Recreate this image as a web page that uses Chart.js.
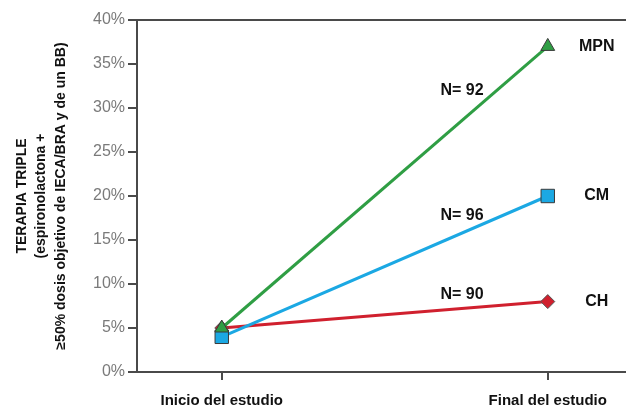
<!DOCTYPE html>
<html>
<head>
<meta charset="utf-8">
<script src="https://cdn.jsdelivr.net/npm/chart.js@4.4.0/dist/chart.umd.min.js"></script>
<style>
    html, body { margin: 0; padding: 0; background: #ffffff; }
    #wrap { width: 626px; height: 412px; }
</style>
</head>
<body>
<div id="wrap"><canvas id="tripleChart"></canvas></div>
<script>
// Data
const stages = ['Inicio del estudio', 'Final del estudio'];
const groupNames = ['MPN', 'CM', 'CH'];
const mpnValues = [5, 37];
const cmValues = [4, 20];
const chValues = [5, 8];
const nLabels = ['N= 92', 'N= 96', 'N= 90'];
const nLabelY = [32, 17.8, 8.8];   // vertical place of the N= notes, in % units
const yTicks = [0, 5, 10, 15, 20, 25, 30, 35, 40];
const yTitle = ['TERAPIA TRIPLE', '(espironolactona +', '\u226550% dosis objetivo de IECA/BRA y de un BB)'];

const colors = {
    mpn: '#2f9e44',
    cm: '#1ba8e3',
    ch: '#d0202e',
    axis: '#4a4a4a',
    tick: '#7a7a7a',
    text: '#111111'
};
const sans = '"Liberation Sans", Arial, sans-serif';

function toPoints(values) {
    return values.map((v, i) => ({ x: i, y: v }));
}

// top frame line + group names + N= notes
const notesPlugin = {
    id: 'notes',
    afterDatasetsDraw(chart) {
        const ctx = chart.ctx;
        const area = chart.chartArea;
        const xs = chart.scales.x;
        const ys = chart.scales.y;
        ctx.save();
        ctx.strokeStyle = colors.axis;
        ctx.lineWidth = 2;
        ctx.beginPath();
        ctx.moveTo(area.left, area.top);
        ctx.lineTo(area.right, area.top);
        ctx.stroke();

        ctx.fillStyle = colors.text;
        ctx.font = 'bold 16px ' + sans;
        ctx.textAlign = 'center';
        ctx.textBaseline = 'middle';
        chart.data.datasets.forEach((ds, i) => {
            const last = ds.data[ds.data.length - 1];
            ctx.fillText(groupNames[i], xs.getPixelForValue(last.x) + 49, ys.getPixelForValue(last.y));
            ctx.fillText(nLabels[i], xs.getPixelForValue(0.737), ys.getPixelForValue(nLabelY[i]));
        });
        ctx.restore();
    }
};

const chart = new Chart(document.getElementById('tripleChart'), {
    type: 'line',
    data: {
        datasets: [
            {
                label: groupNames[0],
                data: toPoints(mpnValues),
                borderColor: colors.mpn,
                backgroundColor: colors.mpn,
                pointStyle: 'triangle',
                pointRadius: 8,
                pointBorderColor: '#3a3a3a',
                pointBorderWidth: 1,
                borderWidth: 3
            },
            {
                label: groupNames[1],
                data: toPoints(cmValues),
                borderColor: colors.cm,
                backgroundColor: colors.cm,
                pointStyle: 'rect',
                pointRadius: 9.5,
                pointBorderColor: '#3a3a3a',
                pointBorderWidth: 1,
                borderWidth: 3
            },
            {
                label: groupNames[2],
                data: toPoints(chValues),
                borderColor: colors.ch,
                backgroundColor: colors.ch,
                pointStyle: 'rectRot',
                pointRadius: 7,
                pointBorderColor: '#555555',
                pointBorderWidth: 1,
                borderWidth: 3
            }
        ]
    },
    options: {
        responsive: true,
        maintainAspectRatio: false,
        animation: false,
        layout: {
            autoPadding: false,
            padding: { top: 20, right: 0, left: 12, bottom: 0 }
        },
        plugins: {
            legend: { display: false },
            tooltip: { enabled: false }
        },
        scales: {
            x: {
                type: 'linear',
                min: -0.26,
                max: 1.24,
                afterBuildTicks: (scale) => { scale.ticks = stages.map((s, i) => ({ value: i })); },
                grid: { drawOnChartArea: false, drawTicks: true, tickLength: 8, color: colors.axis, lineWidth: 2 },
                border: { color: colors.axis, width: 2 },
                ticks: {
                    color: colors.text,
                    padding: 12,
                    maxRotation: 0,
                    autoSkip: false,
                    font: { family: sans, size: 15, weight: 'bold' },
                    callback: (v) => stages[v]
                },
                afterFit: (scale) => {
                    scale.height = 40;
                    scale.paddingLeft = 0;
                    scale.paddingRight = 0;
                }
            },
            y: {
                min: 0,
                max: 40,
                afterBuildTicks: (scale) => { scale.ticks = yTicks.map(v => ({ value: v })); },
                grid: { drawOnChartArea: false, drawTicks: true, tickLength: 9, color: colors.axis, lineWidth: 2 },
                border: { color: colors.axis, width: 2 },
                ticks: {
                    color: colors.tick,
                    padding: 3,
                    font: { family: sans, size: 16 },
                    callback: (v) => v + '%'
                },
                title: {
                    display: true,
                    text: yTitle,
                    color: colors.text,
                    padding: 0,
                    font: { family: sans, size: 14, weight: 'bold', lineHeight: 1.4 }
                },
                afterFit: (scale) => { scale.width = 125; }
            }
        }
    },
    plugins: [notesPlugin]
});
</script>
</body>
</html>
